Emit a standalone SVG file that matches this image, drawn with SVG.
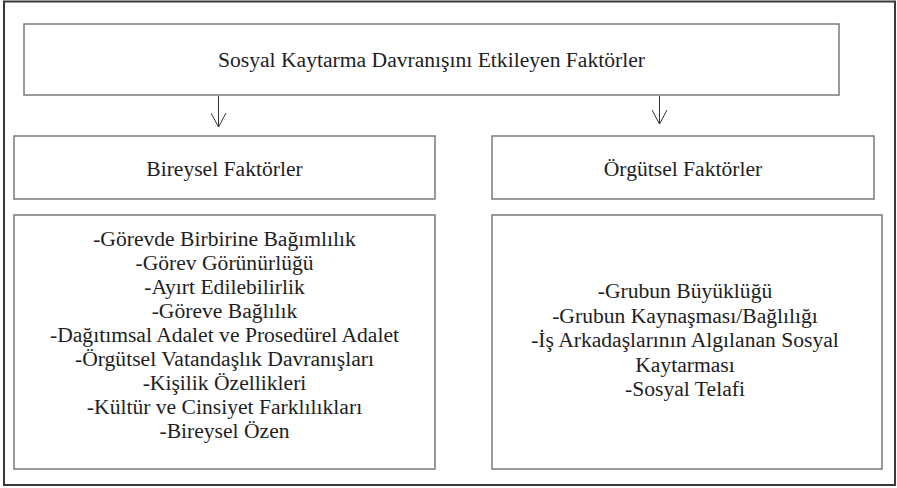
<svg xmlns="http://www.w3.org/2000/svg" width="897" height="488" viewBox="0 0 897 488">
<defs>
<style>
.frame{fill:#fff;stroke:#3a3a3a;stroke-width:2}
.box{fill:#fff;stroke:#7a7a7a;stroke-width:1.5}
.t{font-family:'Liberation Serif',Tinos,'Times New Roman','DejaVu Serif',serif;font-size:21.6px;fill:#1e1e1e;text-anchor:middle}
.conn{stroke:#333;stroke-width:1;fill:none}
</style>
<marker id="arr" viewBox="0 0 16 16" refX="15" refY="8" markerWidth="16" markerHeight="16" markerUnits="userSpaceOnUse" orient="auto">
<path d="M1,0.5 L15,8 L1,15.5" fill="none" stroke="#333" stroke-width="1"/>
</marker>
</defs>
<rect x="0" y="0" width="897" height="488" fill="#fff"/>
<rect class="frame" x="4" y="1.5" width="891" height="483.5"/>
<g id="top">
<rect class="box" x="24" y="24" width="815" height="71"/>
<text class="t" x="431.5" y="67">Sosyal Kaytarma Davranışını Etkileyen Faktörler</text>
</g>
<g id="connectors">
<line class="conn" x1="218.5" y1="96" x2="218.5" y2="127" marker-end="url(#arr)"/>
<line class="conn" x1="659.5" y1="96" x2="659.5" y2="124" marker-end="url(#arr)"/>
</g>
<g id="bireysel">
<rect class="box" x="14" y="136" width="421" height="63"/>
<text class="t" x="224.5" y="176">Bireysel Faktörler</text>
</g>
<g id="orgutsel">
<rect class="box" x="492" y="136" width="382" height="63"/>
<text class="t" x="683" y="176">Örgütsel Faktörler</text>
</g>
<g id="bireysel-list">
<rect class="box" x="14" y="215" width="421" height="254"/>
<text class="t" x="224.5" y="246">-Görevde Birbirine Bağımlılık</text>
<text class="t" x="224.5" y="270">-Görev Görünürlüğü</text>
<text class="t" x="224.5" y="294">-Ayırt Edilebilirlik</text>
<text class="t" x="224.5" y="318">-Göreve Bağlılık</text>
<text class="t" x="224.5" y="342">-Dağıtımsal Adalet ve Prosedürel Adalet</text>
<text class="t" x="224.5" y="366">-Örgütsel Vatandaşlık Davranışları</text>
<text class="t" x="224.5" y="390">-Kişilik Özellikleri</text>
<text class="t" x="224.5" y="414">-Kültür ve Cinsiyet Farklılıkları</text>
<text class="t" x="224.5" y="438">-Bireysel Özen</text>
</g>
<g id="orgutsel-list">
<rect class="box" x="492" y="215" width="390" height="254"/>
<text class="t" x="685" y="298">-Grubun Büyüklüğü</text>
<text class="t" x="685" y="322.5">-Grubun Kaynaşması/Bağlılığı</text>
<text class="t" x="685" y="347">-İş Arkadaşlarının Algılanan Sosyal</text>
<text class="t" x="685" y="371.5">Kaytarması</text>
<text class="t" x="685" y="396">-Sosyal Telafi</text>
</g>
</svg>
